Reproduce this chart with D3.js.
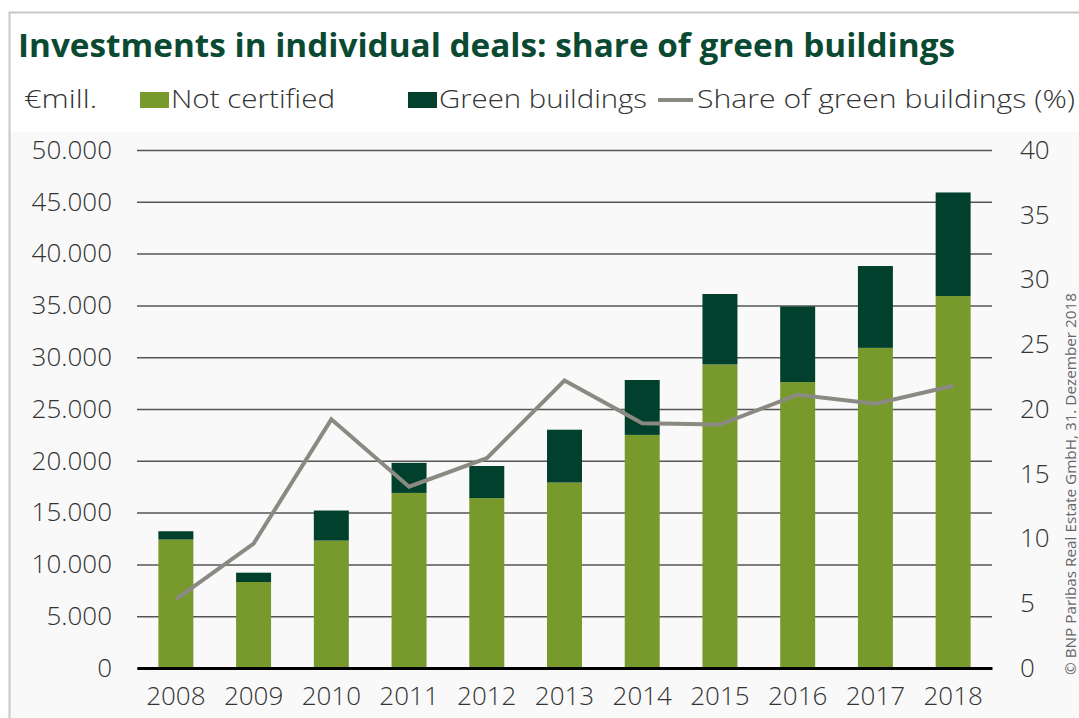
<!DOCTYPE html>
<html lang="en">

<head>
  <meta charset="UTF-8" />
  <title>Green buildings share</title>
  <script src="https://d3js.org/d3.v7.js"></script>
  <style>
    body { margin: 0; background: #fff; }
    text { font-family: "Open Sans", "DejaVu Sans", sans-serif; }
  </style>
</head>

<body>
  <svg></svg>
</body>

<script>
  // values
  const years = ['2008', '2009', '2010', '2011', '2012', '2013', '2014', '2015', '2016', '2017', '2018'];
  const notCertified = [12400, 8300, 12300, 16900, 16400, 17900, 22500, 29300, 27600, 30900, 35900];
  const greenBuildings = [800, 900, 2900, 2900, 3100, 5100, 5300, 6800, 7300, 7900, 10000];
  const sharePct = [5.3, 9.6, 19.2, 14.0, 16.2, 22.2, 18.9, 18.8, 21.1, 20.4, 21.8];
  const leftTicks = [0, 5000, 10000, 15000, 20000, 25000, 30000, 35000, 40000, 45000, 50000];
  const rightTicks = [0, 5, 10, 15, 20, 25, 30, 35, 40];

  const width = 1079, height = 718;
  const plotLeft = 137, plotRight = 992, plotTop = 150, plotBottom = 668;
  const lightGreen = '#789a2c', darkGreen = '#01402d', lineGrey = '#8b8a82';

  const svg = d3.select('svg').attr('width', width).attr('height', height);

  // frame and plot background
  svg.append('rect').attr('x', 0).attr('y', 0).attr('width', width).attr('height', height).attr('fill', '#fff');
  svg.append('rect').attr('x', 9).attr('y', 132).attr('width', width).attr('height', height).attr('fill', '#f9f9f9');
  svg.append('path').attr('d', 'M9.5,' + height + 'V12.5H' + width)
    .attr('fill', 'none').attr('stroke', '#c8c8c8').attr('stroke-width', 2);

  const loc = d3.formatLocale({ decimal: ',', thousands: '.', grouping: [3], currency: ['', '€'] });
  const fmt = loc.format(',');

  const x = d3.scaleBand().domain(years).range([plotLeft, plotRight]).paddingInner(0.55).paddingOuter(0.275);
  const y = d3.scaleLinear().domain([0, 50000]).range([plotBottom, plotTop]);
  const y2 = d3.scaleLinear().domain([0, 40]).range([plotBottom, plotTop]);

  // gridlines + left labels
  const gy = svg.append('g').attr('transform', 'translate(' + plotLeft + ',0)')
    .call(d3.axisLeft(y).tickValues(leftTicks).tickFormat(fmt).tickSize(-(plotRight - plotLeft)).tickPadding(25));
  gy.select('.domain').remove();
  gy.selectAll('line').attr('stroke', '#555').attr('stroke-width', 1.5);
  gy.selectAll('text').attr('font-size', 26).attr('font-weight', 300).attr('fill', '#333');

  // right labels
  const gy2 = svg.append('g').attr('transform', 'translate(' + plotRight + ',0)')
    .call(d3.axisRight(y2).tickValues(rightTicks).tickSize(0).tickPadding(28));
  gy2.select('.domain').remove();
  gy2.selectAll('text').attr('font-size', 26).attr('font-weight', 300).attr('fill', '#333');

  // stacked bars
  svg.selectAll('.nc').data(years).join('rect').classed('nc', true)
    .attr('x', d => x(d)).attr('width', x.bandwidth())
    .attr('y', (d, i) => y(notCertified[i]))
    .attr('height', (d, i) => y(0) - y(notCertified[i]))
    .attr('fill', lightGreen);

  svg.selectAll('.gb').data(years).join('rect').classed('gb', true)
    .attr('x', d => x(d)).attr('width', x.bandwidth())
    .attr('y', (d, i) => y(notCertified[i] + greenBuildings[i]))
    .attr('height', (d, i) => y(notCertified[i]) - y(notCertified[i] + greenBuildings[i]))
    .attr('fill', darkGreen);

  // x axis
  const gx = svg.append('g').attr('transform', 'translate(0,' + plotBottom + ')')
    .call(d3.axisBottom(x).tickSize(0).tickPadding(19));
  gx.select('.domain').attr('stroke', '#000').attr('stroke-width', 3);
  gx.selectAll('text').attr('font-size', 26).attr('font-weight', 300).attr('fill', '#333');

  // share line
  const line = d3.line().x((d, i) => x(years[i]) + x.bandwidth() / 2).y(d => y2(d));
  svg.append('path').datum(sharePct).attr('d', line)
    .attr('fill', 'none').attr('stroke', lineGrey).attr('stroke-width', 4).attr('stroke-linejoin', 'miter');

  // title
  svg.append('text').attr('x', 18).attr('y', 57)
    .attr('font-size', 32).attr('font-weight', 'bold').attr('fill', '#0b4a32')
    .attr('textLength', 937).attr('lengthAdjust', 'spacingAndGlyphs')
    .text('Investments in individual deals: share of green buildings');

  // legend
  const lg = svg.append('g').attr('font-size', 25).attr('font-weight', 300).attr('fill', '#333');
  lg.append('text').attr('x', 24).attr('y', 108).attr('textLength', 73).attr('lengthAdjust', 'spacingAndGlyphs').text('€mill.');
  lg.append('rect').attr('x', 140).attr('y', 92).attr('width', 29).attr('height', 16).attr('fill', lightGreen);
  lg.append('text').attr('x', 171).attr('y', 108).attr('textLength', 164).attr('lengthAdjust', 'spacingAndGlyphs').text('Not certified');
  lg.append('rect').attr('x', 408).attr('y', 92).attr('width', 29).attr('height', 16).attr('fill', darkGreen);
  lg.append('text').attr('x', 439).attr('y', 108).attr('textLength', 208).attr('lengthAdjust', 'spacingAndGlyphs').text('Green buildings');
  lg.append('line').attr('x1', 658).attr('x2', 693).attr('y1', 100).attr('y2', 100).attr('stroke', lineGrey).attr('stroke-width', 4);
  lg.append('text').attr('x', 697).attr('y', 108).attr('textLength', 378).attr('lengthAdjust', 'spacingAndGlyphs').text('Share of green buildings (%)');

  // source
  svg.append('text').attr('transform', 'translate(1076,675) rotate(-90)')
    .attr('font-size', 15).attr('fill', '#666')
    .attr('textLength', 382).attr('lengthAdjust', 'spacingAndGlyphs')
    .text('© BNP Paribas Real Estate GmbH, 31. Dezember 2018');
</script>

</html>
